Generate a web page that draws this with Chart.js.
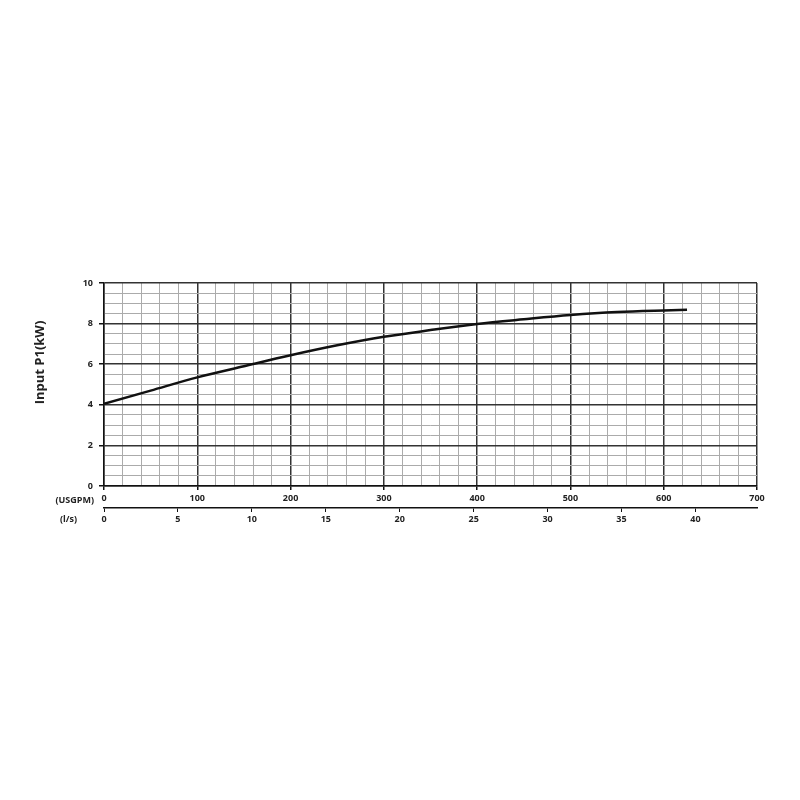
<!DOCTYPE html>
<html>
<head>
<meta charset="utf-8">
<script src="https://cdn.jsdelivr.net/npm/chart.js@4"></script>
<style>
  html, body { margin: 0; padding: 0; background: #fff; }
  #wrap { width: 800px; height: 800px; }
</style>
</head>
<body>
<div id="wrap"><canvas id="graph1"></canvas></div>
<script>
// flow in USGPM, input power in kW
const flowUsgpm = [0, 50, 100, 150, 200, 250, 300, 350, 400, 450, 500, 550, 600, 625];
const powerKw   = [4.05, 4.70, 5.35, 5.90, 6.44, 6.93, 7.35, 7.68, 7.98, 8.21, 8.42, 8.57, 8.65, 8.68];

// axis ranges / steps
const usgpmMax   = 700;
const usgpmMajor = 100;
const usgpmMinor = 20;
const kwMax      = 10;
const kwMajor    = 2;
const kwMinor    = 0.5;
const lsPerUsgpm = 1 / 15.8503;
const lsStep     = 5;

const TXT  = '#222';
const FONT = '"Open Sans", "Liberation Sans", sans-serif';
const isMajor = (v, step) => Math.abs(v / step - Math.round(v / step)) < 1e-6;

const unitLabels = {
  id: 'unitLabels',
  afterDraw(chart) {
    const { ctx, scales, chartArea } = chart;
    ctx.save();
    ctx.fillStyle = TXT;
    ctx.font = 'bold 9px ' + FONT;
    ctx.textBaseline = 'middle';
    ctx.textAlign = 'right';
    ctx.fillText('(USGPM)', scales.x.left - 10, scales.x.top + 14);
    ctx.textAlign = 'left';
    ctx.fillText('(l/s)', scales.x.left - 44, scales.x2.top + 11);
    // y title
    ctx.font = 'bold 13px ' + FONT;
    ctx.textAlign = 'center';
    ctx.translate(40, (chartArea.top + chartArea.bottom) / 2 - 22);
    ctx.rotate(-Math.PI / 2);
    ctx.fillText('Input P1(kW)', 0, 0);
    ctx.restore();
  }
};

const initGraph = () => {
  const canvas = document.querySelector('#graph1');
  const points = flowUsgpm.map((q, i) => ({ x: q, y: powerKw[i] }));

  new Chart(canvas, {
    type: 'line',
    data: {
      datasets: [{
        data: points,
        borderColor: '#111',
        borderWidth: 2.5,
        pointRadius: 0,
        cubicInterpolationMode: 'monotone',
        fill: false
      }]
    },
    options: {
      responsive: true,
      maintainAspectRatio: false,
      animation: false,
      layout: { padding: { top: 283, right: 43, bottom: 266, left: 0 } },
      plugins: { legend: { display: false }, tooltip: { enabled: false } },
      scales: {
        x: {
          type: 'linear',
          position: 'bottom',
          weight: 0,
          min: 0,
          max: usgpmMax,
          afterFit: (s) => { s.height = 22; },
          border: { display: true, color: '#111', width: 1.5 },
          grid: {
            color: (c) => isMajor(c.tick.value, usgpmMajor) ? '#333' : '#ababab',
            lineWidth: (c) => isMajor(c.tick.value, usgpmMajor) ? 1.5 : 1,
            tickColor: (c) => isMajor(c.tick.value, usgpmMajor) ? '#111' : 'rgba(0,0,0,0)',
            tickLength: 4
          },
          ticks: {
            stepSize: usgpmMinor,
            autoSkip: false,
            maxRotation: 0,
            padding: 3,
            color: TXT,
            font: { family: FONT, size: 9, weight: 'bold' },
            callback: (v) => isMajor(v, usgpmMajor) ? String(v) : ''
          }
        },
        x2: {
          type: 'linear',
          position: 'bottom',
          weight: 1,
          min: 0,
          max: usgpmMax * lsPerUsgpm,
          afterFit: (s) => { s.height = 26; },
          border: { display: true, color: '#111', width: 1.5 },
          grid: { drawOnChartArea: false, tickColor: '#111', tickLength: 4 },
          ticks: {
            stepSize: lsStep,
            includeBounds: false,
            autoSkip: false,
            maxRotation: 0,
            padding: 2,
            color: TXT,
            font: { family: FONT, size: 9, weight: 'bold' }
          }
        },
        y: {
          type: 'linear',
          min: 0,
          max: kwMax,
          afterFit: (s) => { s.width = 104; },
          border: { display: true, color: '#111', width: 1.5 },
          grid: {
            color: (c) => isMajor(c.tick.value, kwMajor) ? '#333' : '#ababab',
            lineWidth: (c) => isMajor(c.tick.value, kwMajor) ? 1.5 : 1,
            tickColor: (c) => isMajor(c.tick.value, kwMajor) ? '#111' : 'rgba(0,0,0,0)',
            tickLength: 5
          },
          ticks: {
            stepSize: kwMinor,
            autoSkip: false,
            padding: 6,
            color: TXT,
            font: { family: FONT, size: 9, weight: 'bold' },
            callback: (v) => isMajor(v, kwMajor) ? String(v) : ''
          }
        }
      }
    },
    plugins: [unitLabels]
  });
};

initGraph();
</script>
</body>
</html>
